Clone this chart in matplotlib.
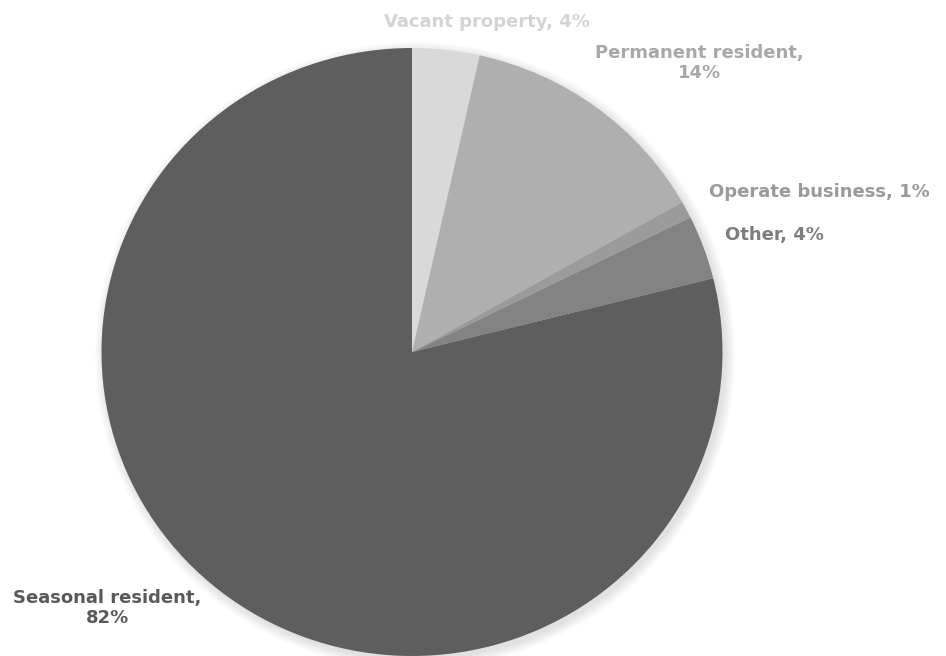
import matplotlib
matplotlib.use("Agg")
import matplotlib.pyplot as plt
from matplotlib.patches import Ellipse

categories = ["Vacant property", "Permanent resident", "Operate business", "Other", "Seasonal resident"]
shares = [3.5, 13.3, 0.9, 3.4, 78.9]
label_pcts = ["4%", "14%", "1%", "4%", "82%"]
colors = ["#d9d9d9", "#afafaf", "#9b9b9b", "#838383", "#5e5e5e"]
label_colors = ["#d4d4d4", "#a8a8a8", "#9a9a9a", "#7d7d7d", "#595959"]

W, H = 946, 656
fig = plt.figure(figsize=(W / 100, H / 100), dpi=100)
fig.patch.set_facecolor("white")

cx, cy, rx, ry = 412, 352, 310.5, 304
ax = fig.add_axes([(cx - rx) / W, (H - cy - ry) / H, 2 * rx / W, 2 * ry / H])
ax.set_xlim(-1, 1)
ax.set_ylim(-1, 1)
ax.set_aspect("auto")
ax.axis("off")

# soft shadow
for i in range(10):
    s = 1.0 + 0.0035 * i
    ax.add_patch(Ellipse((0.01, -0.012), 2 * s, 2 * s, color="black",
                         alpha=0.012, lw=0, zorder=0, clip_on=False))

ax.pie(shares, colors=colors, startangle=90, counterclock=False, radius=1,
       wedgeprops=dict(linewidth=0), frame=False)
ax.set_xlim(-1, 1)
ax.set_ylim(-1, 1)
ax.set_aspect("auto")
for p in ax.patches:
    p.set_clip_on(False)

texts = [
    (f"{categories[0]}, {label_pcts[0]}", 487, 22, "center"),
    (f"{categories[1]},\n{label_pcts[1]}", 699, 63, "center"),
    (f"{categories[2]}, {label_pcts[2]}", 709, 192, "left"),
    (f"{categories[3]}, {label_pcts[3]}", 725, 235, "left"),
    (f"{categories[4]},\n{label_pcts[4]}", 107, 608, "center"),
]
for (t, x, y, ha), c in zip(texts, label_colors):
    fig.text(x / W, 1 - y / H, t, ha=ha, va="center", color=c,
             fontsize=13, fontweight="bold", family="DejaVu Sans",
             linespacing=1.2, multialignment="center")

fig.savefig("out.png", dpi=100, facecolor="white")
